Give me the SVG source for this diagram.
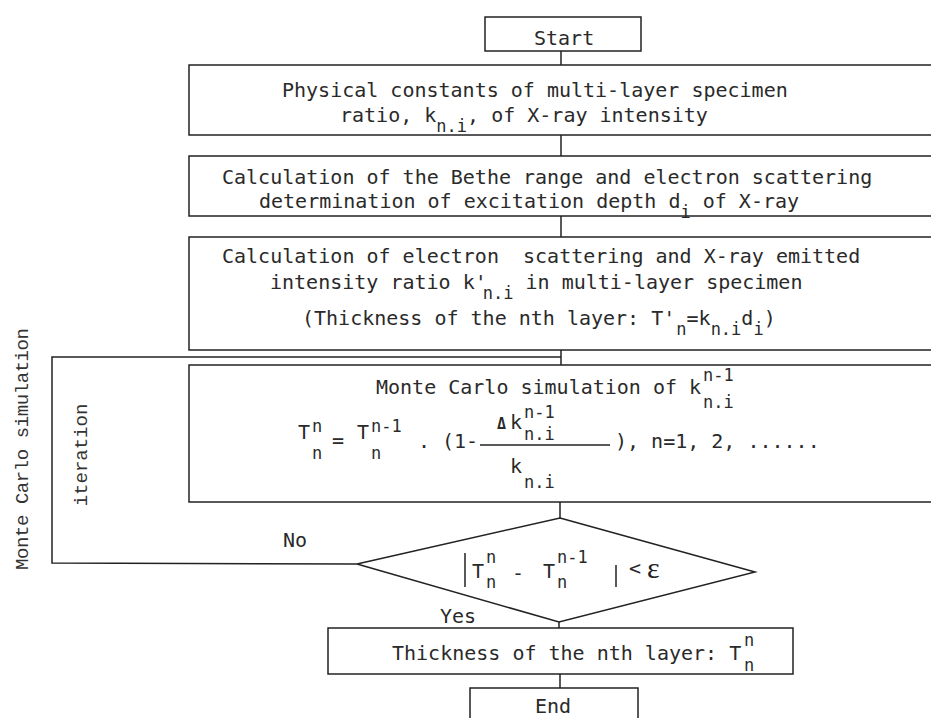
<svg xmlns="http://www.w3.org/2000/svg" width="931" height="718" viewBox="0 0 931 718">
<style>
.b{fill:none;stroke:#222;stroke-width:1.5}
.c{fill:none;stroke:#222;stroke-width:1.5}
.t{font-family:"DejaVu Sans Mono","Liberation Mono",monospace;font-size:20px;fill:#2a2a2a}
.s{font-size:17px}
.lab{font-family:"Liberation Mono","DejaVu Sans Mono",monospace;font-size:19px;fill:#333}
</style>
<rect width="931" height="718" fill="#fff"/>
<g id="connectors">
<line class="c" x1="561" y1="51" x2="561" y2="65"/>
<line class="c" x1="561" y1="135" x2="561" y2="156"/>
<line class="c" x1="561" y1="216" x2="561" y2="237"/>
<line class="c" x1="561" y1="350" x2="561" y2="365"/>
<line class="c" x1="560" y1="502" x2="560" y2="518"/>
<line class="c" x1="559" y1="622" x2="559" y2="628"/>
<line class="c" x1="560" y1="674" x2="560" y2="688"/>
<polyline class="c" points="357,564 52,563 52,357 561,357"/>
<text class="t" x="283" y="547">No</text>
<text class="t" x="440" y="623">Yes</text>
</g>
<g id="labels">
<text class="lab" transform="translate(28,449) rotate(-90)" text-anchor="middle" textLength="242" lengthAdjust="spacing">Monte Carlo simulation</text>
<text class="lab" transform="translate(87,455) rotate(-90)" text-anchor="middle">iteration</text>
</g>
<g id="start">
<rect class="b" x="485" y="17" width="156" height="34"/>
<text class="t" x="534" y="45">Start</text>
</g>
<g id="constants">
<rect class="b" x="189" y="65" width="760" height="70"/>
<text class="t" x="282" y="97">Physical constants of multi-layer specimen</text>
<text class="t" x="340" y="122">ratio, k<tspan class="s" dy="10">n.i</tspan><tspan dy="-10">, of X-ray intensity</tspan></text>
</g>
<g id="bethe">
<rect class="b" x="189" y="156" width="760" height="60"/>
<text class="t" x="222" y="184">Calculation of the Bethe range and electron scattering</text>
<text class="t" x="259" y="208">determination of excitation depth d<tspan class="s" dy="10">i</tspan><tspan dy="-10"> of X-ray</tspan></text>
</g>
<g id="scattering">
<rect class="b" x="189" y="237" width="760" height="113"/>
<text class="t" x="222" y="263">Calculation of electron&#160; scattering and X-ray emitted</text>
<text class="t" x="270" y="289">intensity ratio k'<tspan class="s" dy="10" dx="-4">n.i</tspan><tspan dy="-10"> in multi-layer specimen</tspan></text>
<text class="t" x="302" y="325">(Thickness of the nth layer: T'<tspan class="s" dy="10" dx="1">n</tspan><tspan dy="-10">=k</tspan><tspan class="s" dy="10">n.i</tspan><tspan dy="-10">d</tspan><tspan class="s" dy="10">i</tspan><tspan dy="-10">)</tspan></text>
</g>
<g id="montecarlo">
<rect class="b" x="189" y="365" width="760" height="137"/>
<text class="t" x="376" y="394">Monte Carlo simulation of k</text>
<text class="t s" x="703" y="381">n-1</text>
<text class="t s" x="703" y="408">n.i</text>
<text class="t" x="298" y="439">T</text>
<text class="t s" x="312" y="432">n</text>
<text class="t s" x="312" y="459">n</text>
<text class="t" x="332" y="447">=</text>
<text class="t" x="357" y="439">T</text>
<text class="t s" x="371" y="432">n-1</text>
<text class="t s" x="371" y="459">n</text>
<text class="t" x="418" y="448">.</text>
<text class="t" x="442" y="448">(1-</text>
<line class="c" x1="480" y1="445" x2="610" y2="445"/>
<text class="t" x="497" y="429" style="font-weight:bold;font-size:15px">Δ</text>
<text class="t" x="510" y="429">k</text>
<text class="t s" x="524" y="418">n-1</text>
<text class="t s" x="524" y="440">n.i</text>
<text class="t" x="510" y="473">k</text>
<text class="t s" x="524" y="488">n.i</text>
<text class="t" x="615" y="448">), n=1, 2, ......</text>
</g>
<g id="decision">
<polygon class="b" points="560,518 755,572 559,622 357,564"/>
<line class="c" x1="465" y1="553" x2="465" y2="587"/>
<text class="t" x="472" y="578">T</text>
<text class="t s" x="486" y="563">n</text>
<text class="t s" x="486" y="588">n</text>
<text class="t" x="512" y="580">-</text>
<text class="t" x="543" y="578">T</text>
<text class="t s" x="557" y="563">n-1</text>
<text class="t s" x="557" y="588">n</text>
<line class="c" x1="616" y1="565" x2="616" y2="587"/>
<text class="t" x="629" y="575">&lt;</text>
<text x="647" y="578" style="font-family:'Liberation Serif',serif;font-size:30px;fill:#222">ε</text>
</g>
<g id="thickness">
<rect class="b" x="328" y="628" width="465" height="46"/>
<text class="t" x="392" y="660">Thickness of the nth layer: T</text>
<text class="t s" x="744" y="646">n</text>
<text class="t s" x="744" y="671">n</text>
</g>
<g id="end">
<rect class="b" x="470" y="688" width="168" height="50"/>
<text class="t" x="535" y="713">End</text>
</g>
</svg>
